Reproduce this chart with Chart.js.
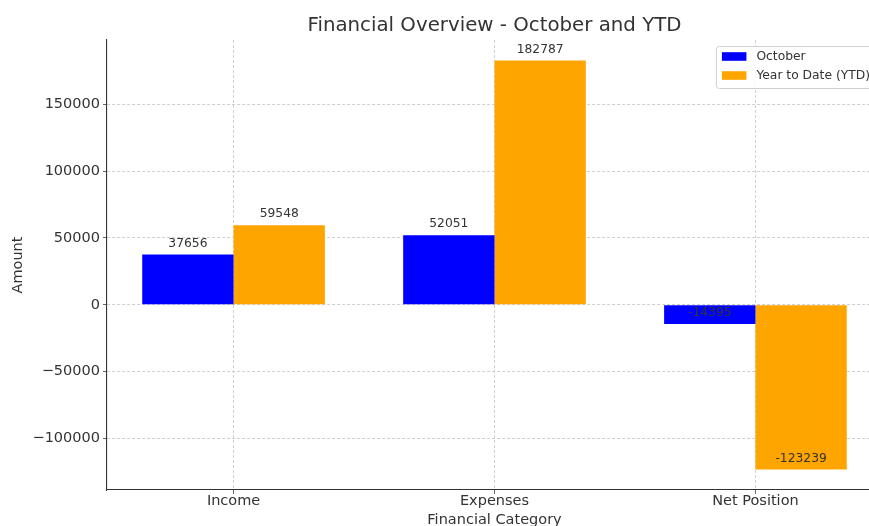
<!DOCTYPE html>
<html>
<head>
<meta charset="utf-8">
<title>Financial Overview - October and YTD</title>
<script src="https://cdn.jsdelivr.net/npm/chart.js@4.4.0/dist/chart.umd.min.js"></script>
<style>
  html, body { margin: 0; padding: 0; background: #fff; overflow: hidden; }
  canvas { display: block; }
</style>
</head>
<body>
<canvas id="myChart" width="890" height="540"></canvas>
<script>
// data
const categories = ['Income', 'Expenses', 'Net Position'];
const seriesNames = ['October', 'Year to Date (YTD)'];
const octoberValues = [37656, 52051, -14395];
const ytdValues = [59548, 182787, -123239];
const yTickValues = [-100000, -50000, 0, 50000, 100000, 150000];

const FONT = '"DejaVu Sans", sans-serif';
const TEXT = '#333';
const GRID = '#d0d0d0';

// axis limits like matplotlib: 5% margin around the data
const allValues = octoberValues.concat(ytdValues).concat([0]);
const dataMin = Math.min(...allValues);
const dataMax = Math.max(...allValues);
const yMin = dataMin - 0.05 * (dataMax - dataMin);
const yMax = dataMax + 0.05 * (dataMax - dataMin);
const xLo = -0.35, xHi = categories.length - 1 + 0.35;
const xMin = xLo - 0.05 * (xHi - xLo);
const xMax = xHi + 0.05 * (xHi - xLo);

const toPoints = (vals) => vals.map((v, i) => ({x: i, y: v}));

const fmtTick = (v) => (v < 0 ? '\u2212' + Math.abs(v) : String(v));

const titlePlugin = {
  id: 'plotTitle',
  afterDraw(chart) {
    const {ctx, chartArea} = chart;
    ctx.save();
    ctx.font = `19.8px ${FONT}`;
    ctx.fillStyle = TEXT;
    ctx.textAlign = 'center';
    ctx.textBaseline = 'middle';
    ctx.fillText('Financial Overview - October and YTD', (chartArea.left + chartArea.right) / 2, 26);
    ctx.restore();
  }
};

const valueLabels = {
  id: 'valueLabels',
  afterDatasetsDraw(chart) {
    const {ctx} = chart;
    ctx.save();
    ctx.font = `12.3px ${FONT}`;
    ctx.fillStyle = TEXT;
    ctx.textAlign = 'center';
    ctx.textBaseline = 'bottom';
    chart.data.datasets.forEach((ds, di) => {
      chart.getDatasetMeta(di).data.forEach((bar, i) => {
        ctx.fillText(String(ds.data[i].y), bar.x, bar.y - 5);
      });
    });
    ctx.restore();
  }
};

const boxLegend = {
  id: 'boxLegend',
  afterDraw(chart) {
    const {ctx, chartArea} = chart;
    ctx.save();
    ctx.font = `12.3px ${FONT}`;
    const textW = Math.max(...chart.data.datasets.map(d => ctx.measureText(d.label).width));
    const w = 6 + 24.5 + 10 + textW + 6;
    const right = chartArea.right - 6;
    const left = right - w;
    const top = chartArea.top + 6;
    const h = 42;
    ctx.fillStyle = 'rgba(255,255,255,0.85)';
    ctx.strokeStyle = '#d0d0d0';
    ctx.lineWidth = 1;
    ctx.beginPath();
    ctx.roundRect(left + 0.5, top + 0.5, w, h, 3);
    ctx.fill();
    ctx.stroke();
    ctx.textBaseline = 'middle';
    ctx.textAlign = 'left';
    chart.data.datasets.forEach((d, i) => {
      const cy = top + 10.5 + i * 19;
      ctx.fillStyle = d.backgroundColor;
      ctx.fillRect(left + 6, cy - 4.3, 24.5, 8.6);
      ctx.fillStyle = TEXT;
      ctx.fillText(d.label, left + 40.5, cy);
    });
    ctx.restore();
  }
};

const ctx = document.getElementById('myChart').getContext('2d');
const chart = new Chart(ctx, {
  type: 'bar',
  data: {
    datasets: [
      {label: seriesNames[0], data: toPoints(octoberValues), backgroundColor: '#0000ff', borderWidth: 0},
      {label: seriesNames[1], data: toPoints(ytdValues), backgroundColor: '#ffa500', borderWidth: 0}
    ]
  },
  options: {
    responsive: false,
    animation: false,
    devicePixelRatio: 1,
    layout: {padding: {top: 40, right: 8, left: 0, bottom: 0}},
    datasets: {bar: {categoryPercentage: 0.7, barPercentage: 1.0}},
    plugins: {
      legend: {display: false},
      title: {display: false},
      tooltip: {enabled: false}
    },
    scales: {
      x: {
        type: 'linear',
        offset: false,
        min: xMin,
        max: xMax,
        afterBuildTicks: (scale) => { scale.ticks = categories.map((c, i) => ({value: i})); },
        afterFit: (scale) => { scale.height = 50; },
        ticks: {
          callback: (v) => categories[v] ?? '',
          color: TEXT,
          font: {family: FONT, size: 14.5},
          padding: -1,
          maxRotation: 0
        },
        grid: {offset: false, color: GRID, tickLength: 4, tickColor: '#666', tickBorderDash: []},
        border: {display: true, color: '#333', width: 1.1, dash: [3, 2]},
        title: {display: true, text: 'Financial Category', color: TEXT, font: {family: FONT, size: 14.5}, padding: {top: 0, bottom: 11}}
      },
      y: {
        min: yMin,
        max: yMax,
        afterBuildTicks: (scale) => { scale.ticks = yTickValues.map(v => ({value: v})); },
        afterFit: (scale) => { scale.width = 107; },
        ticks: {
          callback: fmtTick,
          color: TEXT,
          font: {family: FONT, size: 14.5},
          padding: 3,
          includeBounds: false
        },
        grid: {color: GRID, tickLength: 4, tickColor: '#666', tickBorderDash: []},
        border: {display: true, color: '#333', width: 1.1, dash: [3, 2]},
        title: {display: true, text: 'Amount', color: TEXT, font: {family: FONT, size: 14.5}, padding: {top: 10, bottom: 0}}
      }
    }
  },
  plugins: [valueLabels, boxLegend, titlePlugin]
});
</script>
</body>
</html>
